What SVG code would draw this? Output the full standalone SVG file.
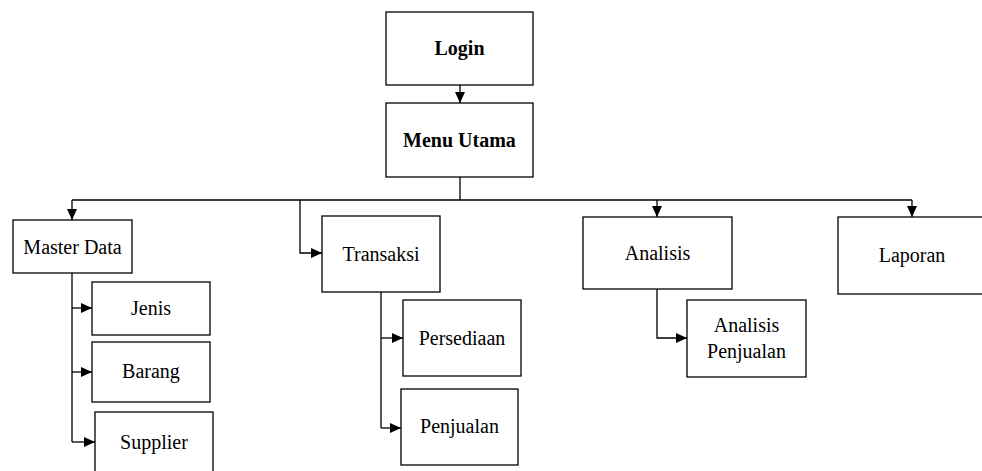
<svg xmlns="http://www.w3.org/2000/svg" width="982" height="471" viewBox="0 0 982 471">
<style>
.box{fill:#fff;stroke:#000;stroke-width:1.3}
.ln{fill:none;stroke:#000;stroke-width:1.3}
text{font-family:"Liberation Serif","Times New Roman",serif;font-size:20px;fill:#000;text-anchor:middle}
.b{font-weight:bold}
</style>
<defs>
<marker id="ah" markerUnits="userSpaceOnUse" markerWidth="12" markerHeight="11" refX="11" refY="5" orient="auto">
<path d="M0,0 L11,5 L0,10 z" fill="#000"/>
</marker>
</defs>
<rect width="982" height="471" fill="#fff"/>
<g id="connectors">
<path class="ln" d="M460,85 V103" marker-end="url(#ah)"/>
<path class="ln" d="M460,177 V200"/>
<path class="ln" d="M72,200 H912"/>
<path class="ln" d="M72,200 V220" marker-end="url(#ah)"/>
<path class="ln" d="M300,200 V253 H322" marker-end="url(#ah)"/>
<path class="ln" d="M657,200 V217" marker-end="url(#ah)"/>
<path class="ln" d="M912,200 V217" marker-end="url(#ah)"/>
<path class="ln" d="M72,273 V442"/>
<path class="ln" d="M72,308 H92" marker-end="url(#ah)"/>
<path class="ln" d="M72,372 H92" marker-end="url(#ah)"/>
<path class="ln" d="M72,442 H95" marker-end="url(#ah)"/>
<path class="ln" d="M381,292 V428"/>
<path class="ln" d="M381,338 H403" marker-end="url(#ah)"/>
<path class="ln" d="M381,428 H401" marker-end="url(#ah)"/>
<path class="ln" d="M657,289 V338 H687" marker-end="url(#ah)"/>
</g>
<g id="login"><rect class="box" x="386" y="12" width="147" height="73"/><text class="b" x="459.5" y="55">Login</text></g>
<g id="menu-utama"><rect class="box" x="386" y="103" width="147" height="74"/><text class="b" x="459.5" y="147">Menu Utama</text></g>
<g id="master-data"><rect class="box" x="13" y="220" width="119" height="53"/><text x="72.5" y="254">Master Data</text></g>
<g id="jenis"><rect class="box" x="92" y="282" width="118" height="53"/><text x="151" y="315">Jenis</text></g>
<g id="barang"><rect class="box" x="92" y="342" width="118" height="60"/><text x="151" y="378">Barang</text></g>
<g id="supplier"><rect class="box" x="95" y="412" width="118" height="70"/><text x="154" y="449">Supplier</text></g>
<g id="transaksi"><rect class="box" x="322" y="216" width="118" height="76"/><text x="381" y="261">Transaksi</text></g>
<g id="persediaan"><rect class="box" x="403" y="300" width="118" height="76"/><text x="462" y="345">Persediaan</text></g>
<g id="penjualan"><rect class="box" x="401" y="389" width="117" height="76"/><text x="459.5" y="433">Penjualan</text></g>
<g id="analisis"><rect class="box" x="583" y="217" width="149" height="72"/><text x="657.5" y="260">Analisis</text></g>
<g id="analisis-penjualan"><rect class="box" x="687" y="300" width="119" height="77"/><text x="746.5" y="332">Analisis</text><text x="746.5" y="358">Penjualan</text></g>
<g id="laporan"><rect class="box" x="838" y="217" width="160" height="77"/><text x="912" y="262">Laporan</text></g>
</svg>
